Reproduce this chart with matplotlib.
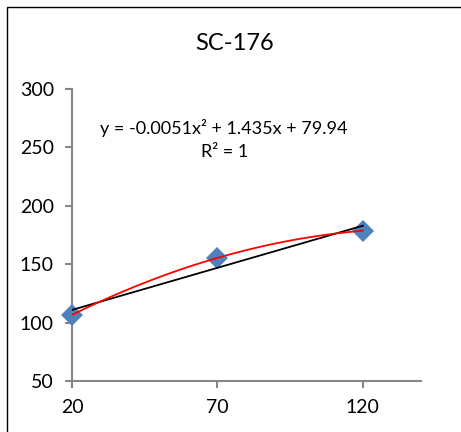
import numpy as np
import matplotlib
matplotlib.use("Agg")
import matplotlib.pyplot as plt
from matplotlib.patches import Rectangle

plt.rcParams['font.family'] = ['Lato', 'DejaVu Sans']

# data
x_vals = [20, 70, 120]
y_vals = [106.6, 155.4, 178.7]
x_ticks = [20, 70, 120]
y_ticks = [50, 100, 150, 200, 250, 300]
title = "SC-176"

fig = plt.figure(figsize=(4.61, 4.32), dpi=100)
ax = fig.add_axes([72/461, 1-381/432, (421-72)/461, (381-89)/432])

# outer chart frame
fig.patches.append(Rectangle((7/461, -0.1), 1.2, 1-7/432+0.1, transform=fig.transFigure,
                             fill=False, edgecolor='#000000', linewidth=1.0))

# trendlines
xs = np.linspace(min(x_vals), max(x_vals), 200)
p2 = np.polyfit(x_vals, y_vals, 2)
p1 = np.polyfit(x_vals, y_vals, 1)
ax.plot(xs, np.polyval(p1, xs), color='black', lw=1.3, zorder=4)
ax.plot(xs, np.polyval(p2, xs), color='red', lw=1.3, zorder=4)
ax.plot(x_vals, y_vals, 'D', color='#4F81BD', ms=11, markeredgewidth=0, zorder=3, clip_on=False)

ax.set_xlim(20, 140)
ax.set_ylim(50, 300)
ax.set_xticks(x_ticks)
ax.set_yticks(y_ticks)
for s in ['top', 'right']:
    ax.spines[s].set_visible(False)
for s in ['left', 'bottom']:
    ax.spines[s].set_color('#868686')
    ax.spines[s].set_linewidth(1.5)
ax.tick_params(axis='both', colors='#868686', labelcolor='black', labelsize=14,
               length=5, width=1.5, direction='out')
ax.tick_params(axis='y', pad=8)
ax.tick_params(axis='x', pad=8)

fig.text(224/461, 1-128/432, "y = -0.0051x² + 1.435x + 79.94",
         ha='center', va='center', fontsize=13)
fig.text(225/461, 1-152/432, "R² = 1", ha='center', va='center', fontsize=13)

fig.text(235/461, 1-43/432, title, ha='center', va='center', fontsize=17)

fig.savefig("out.png", dpi=100)
